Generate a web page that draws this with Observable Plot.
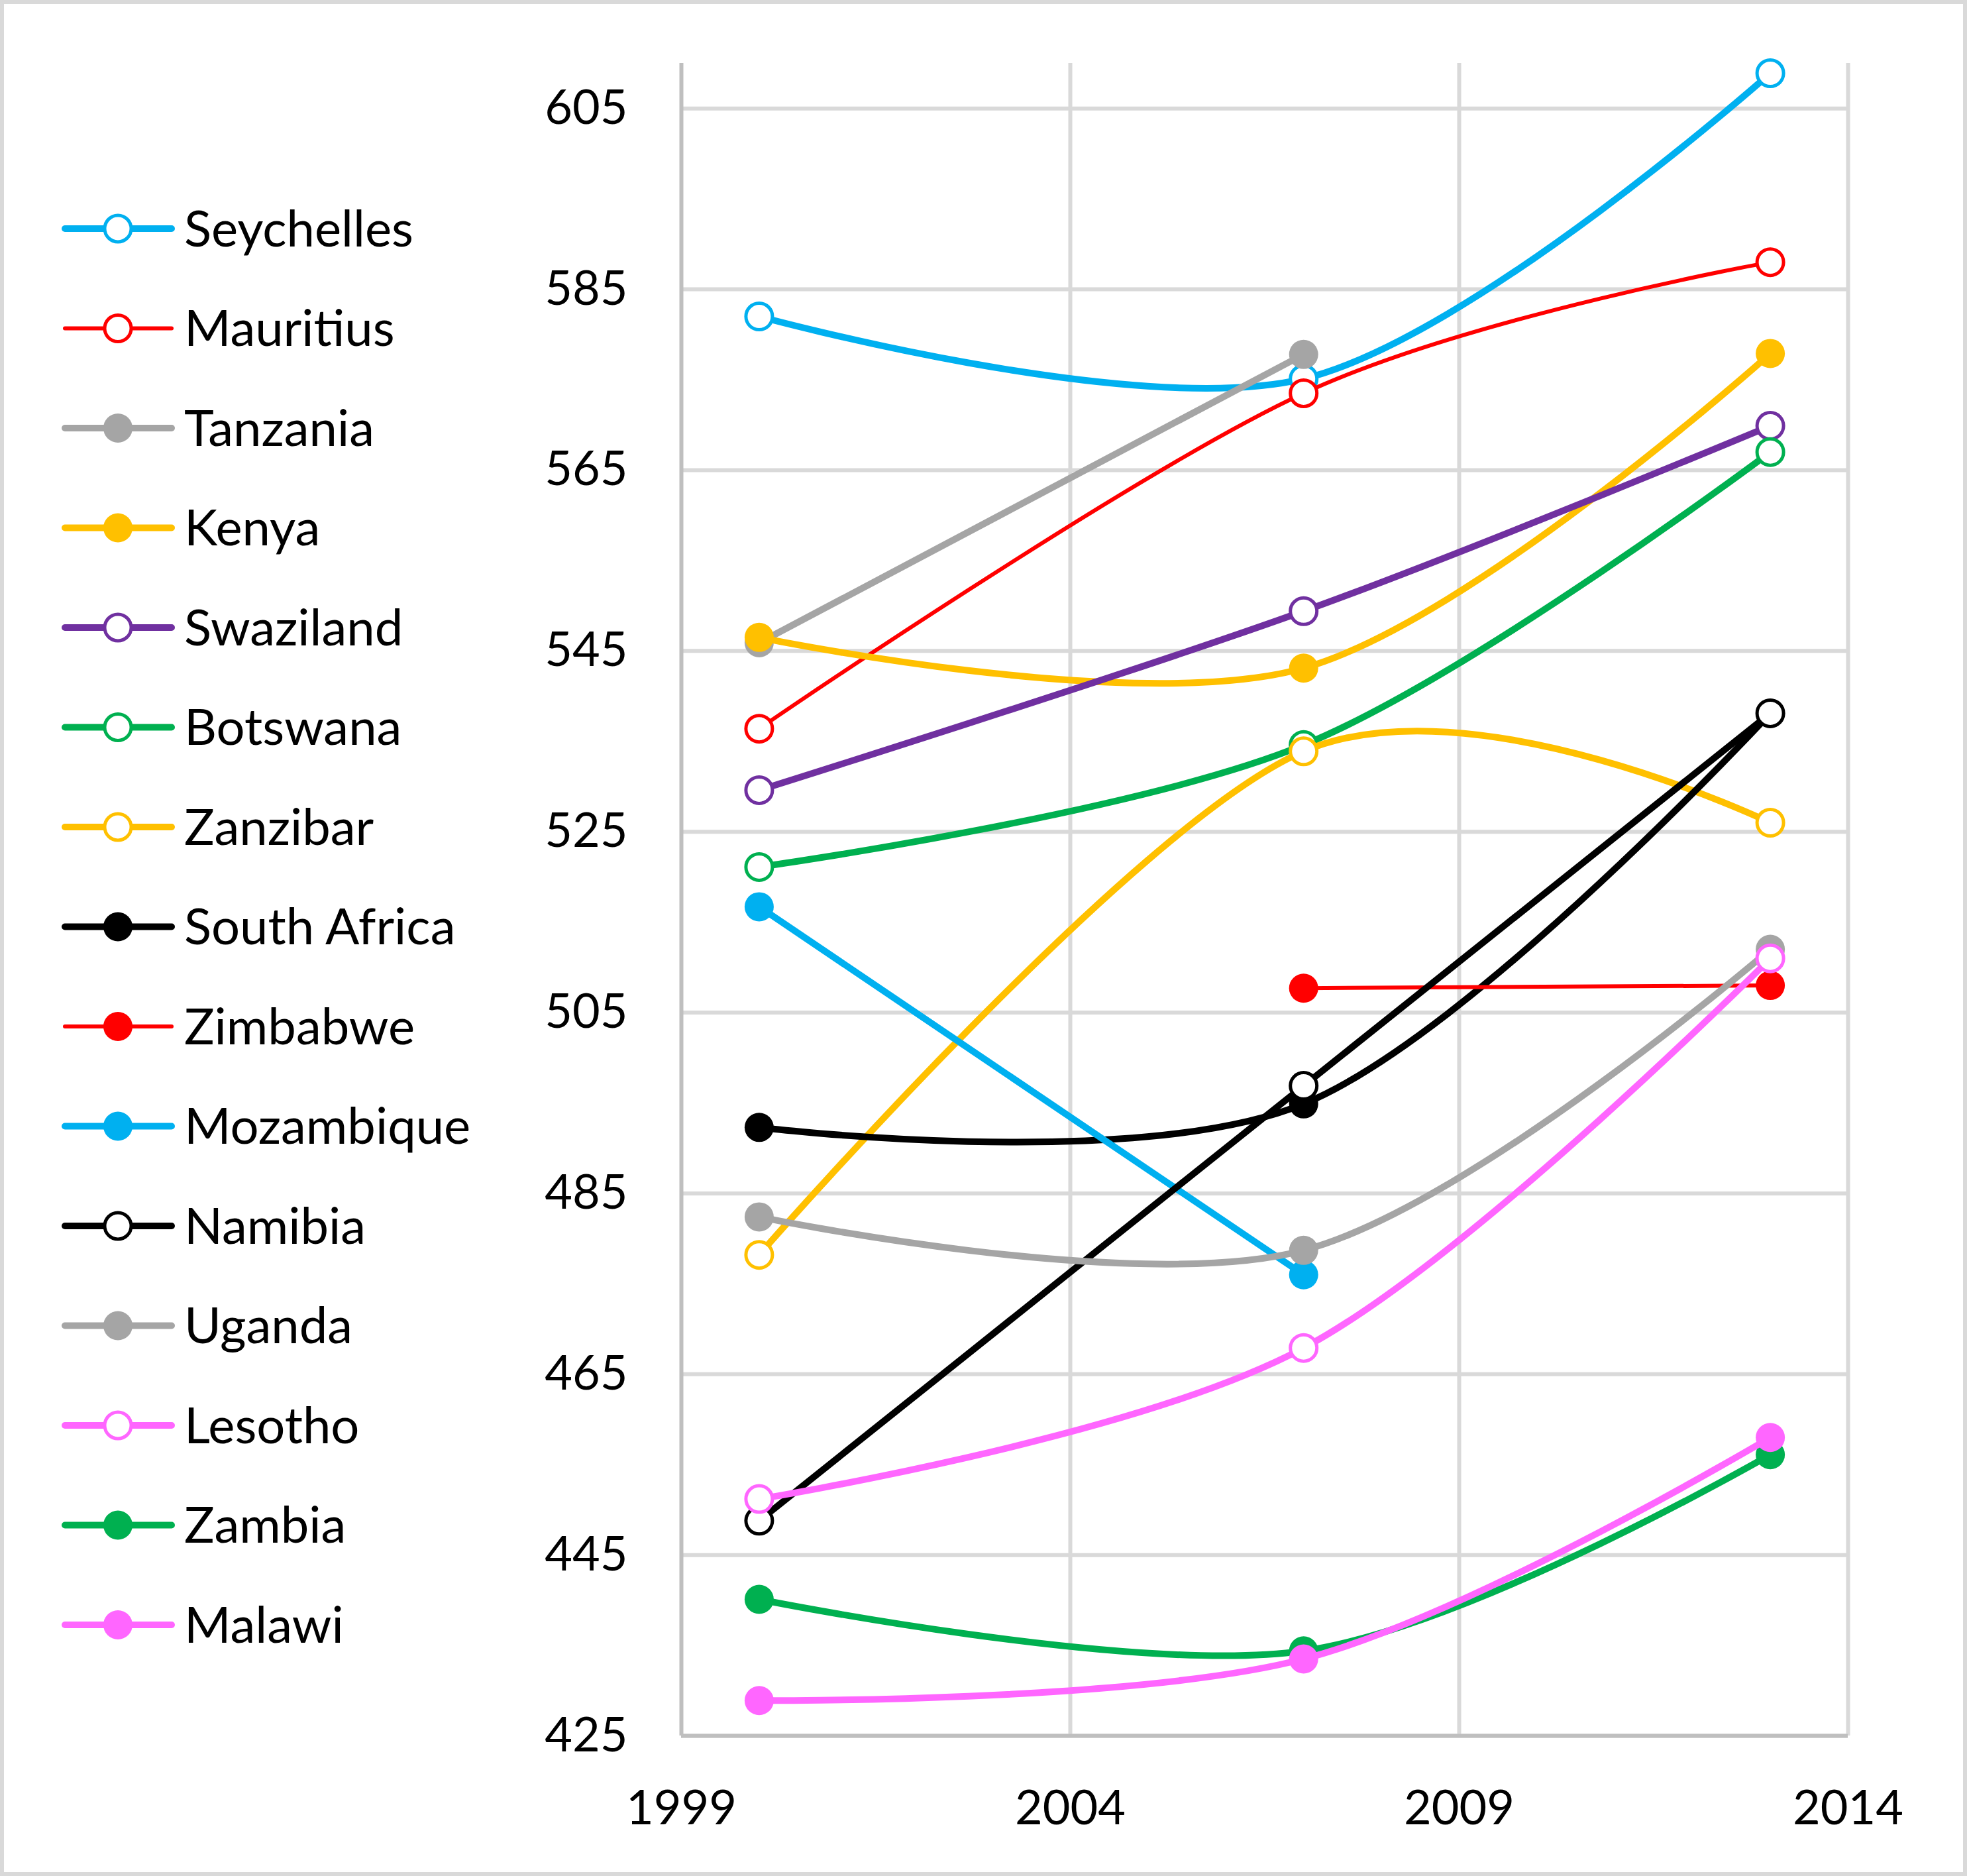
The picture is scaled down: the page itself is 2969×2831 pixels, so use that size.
<!DOCTYPE html>
<html>
<head>
<meta charset="utf-8">
<script src="https://cdn.jsdelivr.net/npm/d3@7"></script>
<script src="https://cdn.jsdelivr.net/npm/@observablehq/plot@0.6"></script>
<style>
  html, body { margin: 0; padding: 0; background: #fff; }
  #wrap { position: relative; width: 2969px; height: 2831px; overflow: hidden; background: #fff; }
  #chart { position: absolute; left: 0; top: 0; }
  #legend { position: absolute; left: 0; top: 0; }
  #border { position: absolute; left: 0; top: 0; width: 2969px; height: 2831px; box-sizing: border-box; border: 6px solid #d9d9d9; pointer-events: none; }
</style>
</head>
<body>
<div id="wrap">
  <div id="chart"></div>
  <div id="legend"></div>
  <div id="border"></div>
</div>
<script>
// ---- data ----
const years = [2000, 2007, 2013];
const countries = ["Seychelles", "Mauritius", "Tanzania", "Kenya", "Swaziland", "Botswana", "Zanzibar",
  "South Africa", "Zimbabwe", "Mozambique", "Namibia", "Uganda", "Lesotho", "Zambia", "Malawi"];
const seychelles  = [582.0, 575.1, 608.9];
const mauritius   = [536.4, 573.5, 588.0];
const tanzania    = [545.9, 577.8, null];
const kenya       = [546.5, 543.1, 577.9];
const swaziland   = [529.6, 549.4, 569.9];
const botswana    = [521.1, 534.6, 567.0];
const zanzibar    = [478.2, 533.9, 526.0];
const southAfrica = [492.3, 494.9, 538.1];
const zimbabwe    = [null, 507.7, 508.0];
const mozambique  = [516.7, 476.0, null];
const namibia     = [448.8, 496.9, 538.1];
const uganda      = [482.4, 478.7, 512.0];
const lesotho     = [451.2, 467.9, 511.0];
const zambia      = [440.1, 434.4, 456.1];
const malawi      = [428.9, 433.5, 458.0];
const seriesValues = [seychelles, mauritius, tanzania, kenya, swaziland, botswana, zanzibar,
  southAfrica, zimbabwe, mozambique, namibia, uganda, lesotho, zambia, malawi];
const colors = ["#00b0f0", "#ff0000", "#a5a5a5", "#ffc000", "#7030a0", "#00b050", "#ffc000",
  "#000000", "#ff0000", "#00b0f0", "#000000", "#a5a5a5", "#ff66ff", "#00b050", "#ff66ff"];
const openMarker = [true, true, false, false, true, true, true, false, false, false, true, false, true, false, false];
const thinLine = [false, true, false, false, false, false, false, false, true, false, false, false, false, false, false];
const yTicks = [425, 445, 465, 485, 505, 525, 545, 565, 585, 605];
const xTicks = [1999, 2004, 2009, 2014];

// ---- build rows ----
const series = countries.map((name, i) => ({
  name,
  color: colors[i],
  open: openMarker[i],
  width: thinLine[i] ? 6 : 10,
  rows: years.map((year, j) => ({country: name, year, value: seriesValues[i][j]})).filter(d => d.value != null)
}));

const FONT = "Lato, 'Open Sans', sans-serif";

const marks = [
  Plot.gridY(yTicks, {stroke: "#d9d9d9", strokeOpacity: 1, strokeWidth: 6}),
  Plot.gridX(xTicks.slice(1), {stroke: "#d9d9d9", strokeOpacity: 1, strokeWidth: 6}),
  Plot.ruleX([1999], {stroke: "#bfbfbf", strokeWidth: 6}),
  Plot.ruleY([425], {stroke: "#bfbfbf", strokeWidth: 6}),
  Plot.axisY(yTicks, {tickSize: 0, tickPadding: 81, fontSize: 72, label: null, tickFormat: d => String(d)}),
  Plot.axisX(xTicks, {tickSize: 0, tickPadding: 82, fontSize: 72, label: null, tickFormat: d => String(d)})
];
for (const s of series) {
  marks.push(Plot.line(s.rows, {x: "year", y: "value", stroke: s.color, strokeWidth: s.width, curve: "cardinal", strokeLinecap: "round"}));
  marks.push(Plot.dot(s.rows, {x: "year", y: "value", r: s.open ? 20 : 22, fill: s.open ? "white" : s.color, stroke: s.color, strokeWidth: s.open ? 5 : 0}));
}

const chart = Plot.plot({
  width: 2969,
  height: 2831,
  marginLeft: 1028,
  marginRight: 180,
  marginTop: 95,
  marginBottom: 212,
  style: {fontFamily: FONT, color: "#000", background: "transparent", overflow: "visible"},
  x: {domain: [1999, 2014]},
  y: {domain: [425, 610]},
  marks
});
document.getElementById("chart").appendChild(chart);

// ---- legend ----
const lsvg = d3.select("#legend").append("svg").attr("width", 800).attr("height", 2600);
series.forEach((s, i) => {
  const cy = 345 + i * 150.5;
  const g = lsvg.append("g");
  g.append("line").attr("x1", 98).attr("x2", 259).attr("y1", cy).attr("y2", cy)
    .attr("stroke", s.color).attr("stroke-width", s.width).attr("stroke-linecap", "round");
  g.append("circle").attr("cx", 178).attr("cy", cy).attr("r", s.open ? 20 : 22)
    .attr("fill", s.open ? "white" : s.color).attr("stroke", s.color).attr("stroke-width", s.open ? 5 : 0);
  g.append("text").attr("x", 278).attr("y", cy).attr("dy", "0.35em")
    .attr("font-family", FONT).attr("font-size", 76).attr("fill", "#000").text(s.name);
});
</script>
</body>
</html>
